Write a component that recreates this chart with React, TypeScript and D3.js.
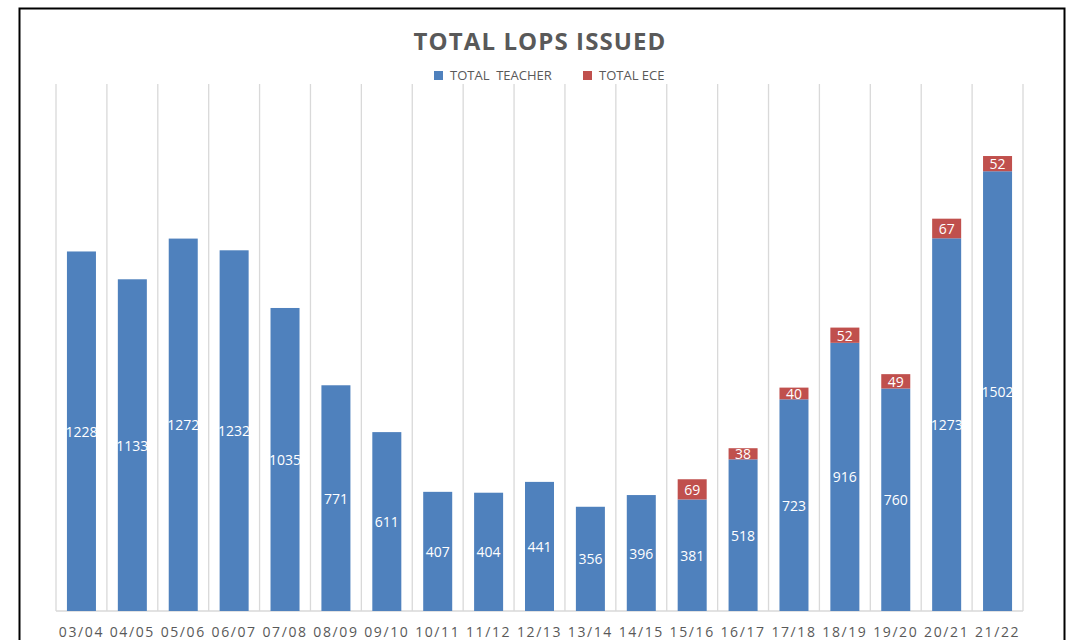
import React from "react";
import * as d3 from "d3";

const categories = ["03/04","04/05","05/06","06/07","07/08","08/09","09/10","10/11","11/12","12/13","13/14","14/15","15/16","16/17","17/18","18/19","19/20","20/21","21/22"];
const teacher = [1228,1133,1272,1232,1035,771,611,407,404,441,356,396,381,518,723,916,760,1273,1502];
const ece = [0,0,0,0,0,0,0,0,0,0,0,0,69,38,40,52,49,67,52];
const seriesNames = ["TOTAL  TEACHER", "TOTAL ECE"];
const colors = ["#4F81BD", "#C0504D"];

const W = 1074, H = 640;
const left = 56, right = 1023, top = 84, bottom = 611;

export default function App() {
  const x = d3.scaleBand<string>().domain(categories).range([left, right]).paddingInner(0.43).paddingOuter(0.215);
  const grid = d3.scaleBand<string>().domain(categories).range([left, right]);
  const y = d3.scaleLinear().domain([0, 1800]).range([bottom, top]);
  const font = "Open Sans, Noto Sans, sans-serif";
  return (
    <div style={{ position: "absolute", left: 0, top: 0 }}>
      <svg width={W} height={H} style={{ display: "block" }}>
        <rect x={0} y={0} width={W} height={H} fill="#fff" />
        <rect x={19.5} y={8.5} width={1045} height={650} fill="#fff" stroke="#000" strokeWidth={2} />
        {categories.map((c, i) => (
          <line key={"g" + i} x1={grid(c)!} x2={grid(c)!} y1={top} y2={bottom} stroke="#d9d9d9" strokeWidth={1.3} />
        ))}
        <line x1={right} x2={right} y1={top} y2={bottom} stroke="#d9d9d9" strokeWidth={1.3} />
        <line x1={left} x2={right} y1={bottom} y2={bottom} stroke="#d9d9d9" strokeWidth={1.5} />
        {categories.map((c, i) => {
          const bx = x(c)!;
          const bw = x.bandwidth();
          const t = teacher[i];
          const e = ece[i];
          const yT = y(t);
          const yE = y(t + e);
          return (
            <g key={"b" + i}>
              <rect x={bx} y={yT} width={bw} height={bottom - yT} fill={colors[0]} />
              {e > 0 && <rect x={bx} y={yE} width={bw} height={yT - yE} fill={colors[1]} />}
              <text x={bx + bw / 2} y={(yT + bottom) / 2} fill="#fff" fontSize={14} fontFamily={font} textAnchor="middle" dominantBaseline="central">{t}</text>
              {e > 0 && <text x={bx + bw / 2} y={(yE + yT) / 2} fill="#fff" fontSize={14} fontFamily={font} textAnchor="middle" dominantBaseline="central">{e}</text>}
              <text x={grid(c)! + grid.bandwidth() / 2} y={637} fill="#595959" fontSize={14} fontFamily={font} textAnchor="middle" letterSpacing={1.6}>{c}</text>
            </g>
          );
        })}
        <text x={540} y={50} textAnchor="middle" fontSize={24} fontWeight="bold" fill="#595959" fontFamily={font} letterSpacing={1.1}>TOTAL LOPS ISSUED</text>
        <rect x={434} y={71} width={9} height={9} fill={colors[0]} />
        <text x={450} y={80} fontSize={13} fill="#595959" fontFamily={font} style={{ whiteSpace: "pre" }}>{seriesNames[0]}</text>
        <rect x={583} y={71} width={9} height={9} fill={colors[1]} />
        <text x={599} y={80} fontSize={13} fill="#595959" fontFamily={font}>{seriesNames[1]}</text>
      </svg>
    </div>
  );
}
